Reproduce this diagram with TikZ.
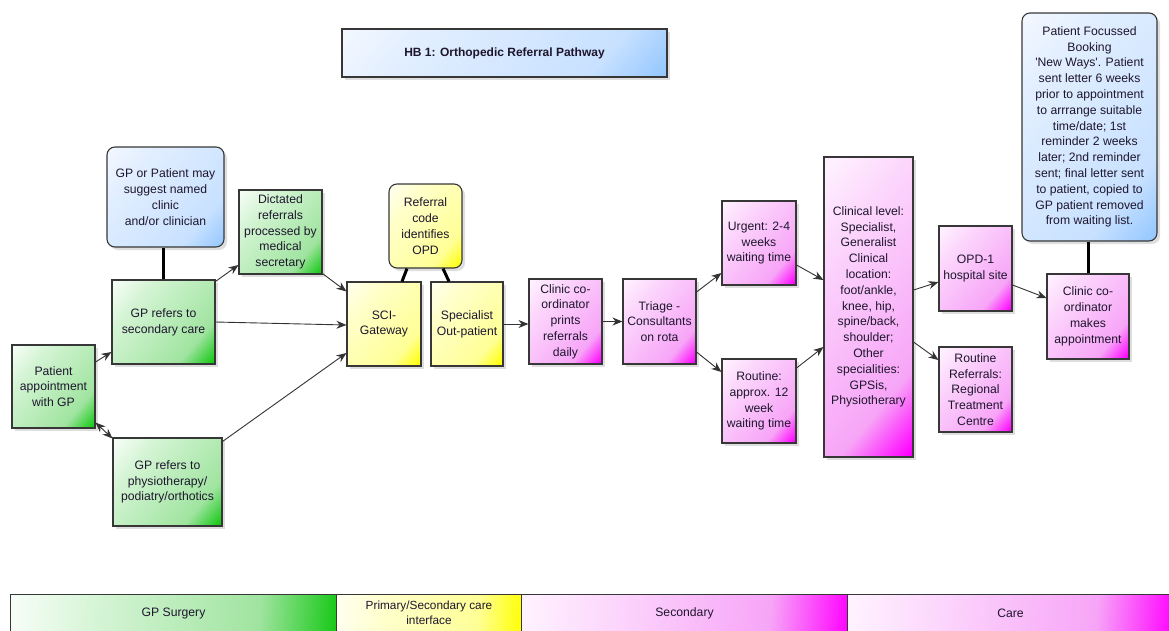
\documentclass[tikz,border=0pt]{standalone}
\usepackage{fontspec}
\setmainfont{Liberation Sans}
\usetikzlibrary{arrows.meta,shadows}
\definecolor{gL}{RGB}{246,253,246}
\definecolor{gA}{RGB}{212,244,212}
\definecolor{gM}{RGB}{160,228,160}
\definecolor{gD}{RGB}{20,200,20}
\definecolor{mL}{RGB}{255,242,255}
\definecolor{mA}{RGB}{252,215,252}
\definecolor{mM}{RGB}{247,165,247}
\definecolor{mD}{RGB}{255,0,255}
\definecolor{yL}{RGB}{255,255,238}
\definecolor{yA}{RGB}{255,255,202}
\definecolor{yM}{RGB}{255,255,150}
\definecolor{yD}{RGB}{255,255,0}
\definecolor{bL}{RGB}{242,247,255}
\definecolor{bA}{RGB}{225,238,255}
\definecolor{bM}{RGB}{200,225,255}
\definecolor{bD}{RGB}{150,200,255}
\definecolor{bordc}{RGB}{55,55,55}
\definecolor{txt}{RGB}{30,22,45}
\pgfdeclarehorizontalshading{gshade}{100bp}{color(0bp)=(gL); color(16bp)=(gL); color(32bp)=(gA); color(70bp)=(gM); color(84bp)=(gD); color(100bp)=(gD)}
\pgfdeclarehorizontalshading{mshade}{100bp}{color(0bp)=(mL); color(16bp)=(mL); color(32bp)=(mA); color(70bp)=(mM); color(84bp)=(mD); color(100bp)=(mD)}
\pgfdeclarehorizontalshading{yshade}{100bp}{color(0bp)=(yL); color(16bp)=(yL); color(32bp)=(yA); color(70bp)=(yM); color(84bp)=(yD); color(100bp)=(yD)}
\pgfdeclarehorizontalshading{bshade}{100bp}{color(0bp)=(bL); color(16bp)=(bL); color(32bp)=(bA); color(70bp)=(bM); color(84bp)=(bD); color(100bp)=(bD)}
\pgfdeclarehorizontalshading{gbshade}{100bp}{color(0bp)=(gL); color(24bp)=(gL); color(38bp)=(gA); color(64bp)=(gM); color(77bp)=(gD); color(100bp)=(gD)}
\pgfdeclarehorizontalshading{mbshade}{100bp}{color(0bp)=(mL); color(24bp)=(mL); color(38bp)=(mA); color(64bp)=(mM); color(77bp)=(mD); color(100bp)=(mD)}
\pgfdeclarehorizontalshading{ybshade}{100bp}{color(0bp)=(yL); color(24bp)=(yL); color(38bp)=(yA); color(64bp)=(yM); color(77bp)=(yD); color(100bp)=(yD)}
\begin{document}
\begin{tikzpicture}[x=1pt,y=-1pt,
  font=\fontsize{12.2}{15.8}\selectfont,
  base/.style={draw=bordc, line width=1.1pt, text=txt, align=center, inner sep=1pt,
    drop shadow={shadow xshift=3pt,shadow yshift=-3pt,opacity=0.13,fill=black}},
  gbox/.style={base, shade, shading=gshade, shading angle=-40},
  mbox/.style={base, shade, shading=mshade, shading angle=-40},
  ybox/.style={base, shade, shading=yshade, shading angle=-40},
  bbox/.style={base, shade, shading=bshade, shading angle=-40},
  rbox/.style={rounded corners=8pt},
  band/.style={draw=bordc, line width=1pt, text=txt, align=center, inner sep=1pt, anchor=north west, minimum height=37, shade, shading angle=-4},
  gband/.style={band, shading=gbshade},
  yband/.style={band, shading=ybshade},
  mband/.style={band, shading=mbshade},
  arr/.style={draw=black!80, line width=0.9pt, -{Stealth[length=10pt,width=8pt]}},
  arrtwo/.style={draw=black!80, line width=0.9pt, {Stealth[length=10pt,width=8pt]}-{Stealth[length=10pt,width=8pt]}},
  link/.style={draw=black, line width=3pt}
]
\useasboundingbox (0,0) rectangle (1169,630);

% title
\node[bbox, minimum width=325, minimum height=48, font=\fontsize{12}{14}\selectfont\bfseries] (title) at (504.5,53) {HB 1: Orthopedic Referral Pathway};

% GP surgery
\node[bbox, rbox, minimum width=117, minimum height=100] (gpp) at (165.5,197) {GP or Patient may\\suggest named\\clinic\\and/or clinician};
\node[gbox, minimum width=83, minimum height=84] (dict) at (280.5,232) {Dictated\\referrals\\processed by\\medical\\secretary};
\node[gbox, minimum width=103, minimum height=84] (gpsec) at (163.5,322) {GP refers to\\secondary care};
\node[gbox, minimum width=83, minimum height=83] (pat) at (53.5,386.5) {Patient\\appointment\\with GP};
\node[gbox, minimum width=109, minimum height=88] (physio) at (167.5,482) {GP refers to\\physiotherapy/\\podiatry/orthotics};

% interface
\node[ybox, rbox, minimum width=73, minimum height=84] (refcode) at (425.5,226) {Referral\\code\\identifies\\OPD};
\node[ybox, minimum width=74, minimum height=84] (sci) at (384,324) {SCI-\\Gateway};
\node[ybox, minimum width=72, minimum height=84] (spec) at (467,324) {Specialist\\Out-patient};

% secondary
\node[mbox, minimum width=73, minimum height=85] (print) at (565.5,321.5) {Clinic co-\\ordinator\\prints\\referrals\\daily};
\node[mbox, minimum width=73, minimum height=85] (triage) at (659.5,321.5) {Triage -\\Consultants\\on rota};
\node[mbox, minimum width=74, minimum height=84] (urgent) at (759,243) {Urgent: 2-4\\weeks\\waiting time};
\node[mbox, minimum width=74, minimum height=84] (routine) at (759,401) {Routine:\\approx. 12\\week\\waiting time};
\node[mbox, minimum width=89, minimum height=300] (clin) at (868.5,307) {Clinical level:\\Specialist,\\Generalist\\Clinical\\location:\\foot/ankle,\\knee, hip,\\spine/back,\\shoulder;\\Other\\specialities:\\GPSis,\\Physiotherary};

% care
\node[mbox, minimum width=73, minimum height=85] (opd) at (975.5,268.5) {OPD-1\\hospital site};
\node[mbox, minimum width=73, minimum height=85] (rrt) at (975.5,389.5) {Routine\\Referrals:\\Regional\\Treatment\\Centre};
\node[mbox, minimum width=82, minimum height=85] (make) at (1088,316.5) {Clinic co-\\ordinator\\makes\\appointment};
\node[bbox, rbox, minimum width=135, minimum height=228] (book) at (1089.5,127) {Patient Focussed\\Booking\\\textquotesingle New Ways\textquotesingle. Patient\\sent letter 6 weeks\\prior to appointment\\to arrrange suitable\\time/date; 1st\\reminder 2 weeks\\later; 2nd reminder\\sent; final letter sent\\to patient, copied to\\GP patient removed\\from waiting list.};

% thick links
\draw[link] (gpsec.north) -- (gpsec.north |- gpp.south);
\draw[link] ([xshift=-18.5pt]refcode.south) -- ([xshift=18pt]sci.north);
\draw[link] ([xshift=17.5pt]refcode.south) -- ([xshift=-18pt]spec.north);
\draw[link] (make.north) -- (make.north |- book.south);

% arrows
\draw[arr] ([yshift=24.5pt]pat.east) -- ([yshift=-30pt]gpsec.west);
\draw[arrtwo] ([yshift=6pt]pat.south east) -- ([yshift=-1pt]physio.north west);
\draw[arr] ([yshift=-2pt]gpsec.north east) -- ([yshift=-33pt]dict.west);
\draw[arr] ([yshift=1pt]dict.south east) -- ([yshift=-10pt]sci.north west);
\draw[arr] ([yshift=0pt]gpsec.east) -- ([yshift=-1pt]sci.west);
\draw[arr] ([yshift=-4pt]physio.north east) -- ([yshift=-29pt]sci.west);
\draw[arr] (spec.east) -- (spec.east -| print.west);
\draw[arr] (print.east) -- (triage.west);
\draw[arr] ([yshift=29.5pt]triage.east) -- ([yshift=-30pt]urgent.west);
\draw[arr] ([yshift=-30.5pt]triage.east) -- ([yshift=29pt]routine.west);
\draw[arr] ([yshift=-22pt]urgent.east) -- ([yshift=27pt]clin.west);
\draw[arr] ([yshift=33pt]routine.east) -- ([yshift=-40pt]clin.west);
\draw[arr] ([yshift=17pt]clin.east) -- ([yshift=-13.5pt]opd.west);
\draw[arr] ([yshift=-35pt]clin.east) -- ([yshift=29.5pt]rrt.west);
\draw[arr] ([yshift=-16.5pt]opd.east) -- ([yshift=18.5pt]make.west);

% bottom band
\node[gband, minimum width=326] (bgp) at (10,594) {GP Surgery};
\node[yband, minimum width=185, font=\fontsize{11.8}{15}\selectfont] (bif) at (336,594) {Primary/Secondary care\\interface};
\node[mband, minimum width=326] (bsec) at (521,594) {Secondary};
\node[mband, minimum width=326] (bcare) at (847,594) {Care};
\end{tikzpicture}
\end{document}
